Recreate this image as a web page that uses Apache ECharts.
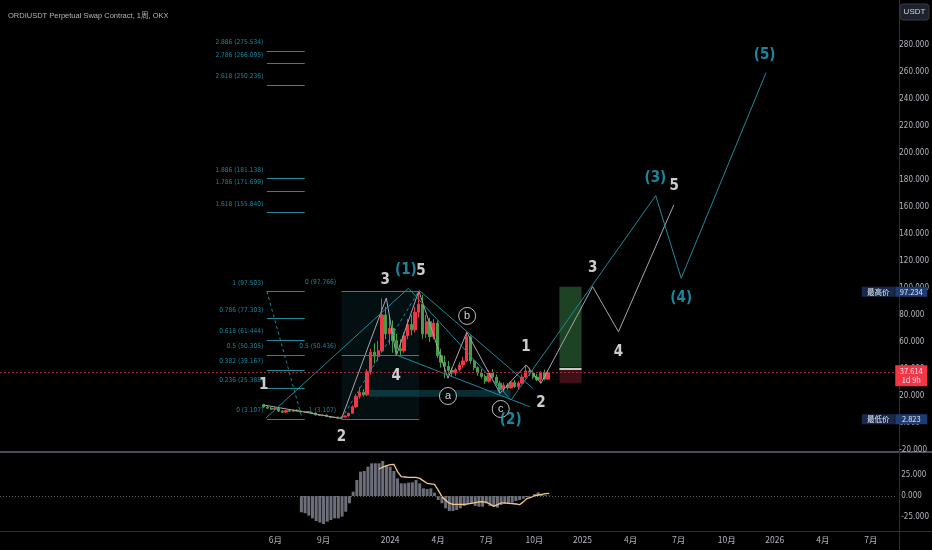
<!DOCTYPE html>
<html><head><meta charset="utf-8">
<script src="https://cdn.jsdelivr.net/npm/echarts@6/dist/echarts.min.js"></script>
<style>html,body{margin:0;padding:0;background:#000;}#c{width:932px;height:550px;}</style>
</head><body><div id="c"></div>
<script>
// x unit = weekly bar index, bar 0 = week of 2023-05-08
const opens = [13.5,11.8,11.0,10.2,10.9,8.8,8.0,9.2,8.7,9.5,
 8.9,8.2,8.5,7.8,7.4,6.0,5.5,5.9,4.9,4.1,
 4.3,3.7,4.4,5.2,7.2,12.0,19.8,22.8,20.9,38.0,
 52.5,49.5,53.5,80.0,66.0,70.0,61.0,55.0,53.5,64.5,
 73.0,69.0,82.0,88.0,66.0,75.0,64.0,74.0,50.0,45.0,
 42.0,39.0,37.0,39.5,43.0,46.0,63.9,46.0,41.0,37.0,
 34.5,31.0,37.0,34.0,29.5,25.0,28.0,26.0,30.0,27.0,
 29.5,34.0,38.5,37.0,34.0,32.0,37.5,32.5];
const closes = [11.8,11.0,10.2,10.9,8.8,8.0,9.2,8.7,9.5,8.9,
 8.2,8.5,7.8,7.4,6.0,5.5,5.9,4.9,4.1,4.3,
 3.7,4.4,5.2,7.2,12.0,19.8,22.8,20.9,38.0,52.5,
 49.5,53.5,80.0,66.0,70.0,61.0,55.0,53.5,64.5,73.0,
 69.0,82.0,88.0,66.0,75.0,64.0,74.0,50.0,45.0,42.0,
 39.0,37.0,39.5,43.0,46.0,63.9,46.0,41.0,37.0,34.5,
 31.0,37.0,34.0,29.5,25.0,28.0,26.0,30.0,27.0,29.5,
 34.0,38.5,37.0,34.0,32.0,37.5,32.5,37.614];
const highs = [14.2,12.6,11.9,11.5,11.2,9.4,9.6,9.8,9.9,10.1,
 9.2,8.8,8.9,8.2,7.6,6.4,6.2,6.1,5.0,4.5,
 4.6,4.8,5.6,7.5,13.0,21.5,26.5,25.0,40.0,55.0,
 59.0,61.0,92.3,86.0,79.0,76.0,66.0,62.0,67.0,77.0,
 80.0,86.0,97.77,95.0,80.0,78.0,77.0,76.0,55.0,50.0,
 46.0,41.0,41.0,45.0,49.0,67.2,65.0,47.0,42.0,40.0,
 36.0,39.0,40.0,36.0,31.0,30.0,29.5,31.0,32.0,31.0,
 36.0,43.0,41.0,39.0,36.5,38.5,39.5,39.0];
const lows = [11.0,10.5,9.8,9.9,8.2,7.6,7.8,8.4,8.5,8.6,
 7.9,7.6,7.5,7.1,5.6,5.2,5.1,4.6,3.6,3.7,
 3.2,3.107,4.1,5.0,6.9,11.2,18.0,19.5,20.0,36.0,
 44.0,46.0,52.0,62.0,58.0,52.0,50.0,50.0,52.0,62.0,
 65.0,67.0,78.0,62.0,63.0,60.0,62.0,48.0,41.0,33.1,
 36.0,34.0,35.0,38.0,41.0,45.0,44.0,39.0,35.0,33.0,
 29.0,30.0,33.0,28.0,22.0,23.0,24.5,25.5,26.0,25.0,
 29.0,33.0,35.0,32.5,31.0,29.4,31.5,31.8];

// lower pane indicator
const histStart = 10;
const histValues = [-19.4,-20.6,-23.4,-26.6,-29.8,-31.7,-33.3,-30.6,-28.6,-26.6,
 -26.6,-24.6,-18.7,-8.7,5.2,19.0,29.0,29.8,34.9,38.9,
 38.9,38.9,41.7,36.9,34.9,29.8,21.0,15.1,15.1,15.9,
 16.3,19.0,15.1,9.1,8.3,9.1,4.0,
 -4.8,-8.7,-14.7,-17.9,-17.9,-16.7,-14.7,-11.9,-9.5,-8.7,
 -11.9,-12.7,-12.7,-8.7,-11.9,-11.9,-13.9,-10.7,-9.5,-9.5,
 -7.9,-6.0,-4.8,-3.2,-1.6,-0.8,
 2.4,4.4,1.5,0.8,0.4];
const lineStart = 31;
const lineValues = [32.1,34.5,36,37.3,37.7,29,23,22.6,22.2,22.2,
 22.2,21,18,15.1,14.5,13.9,7,-0.8,-5,-8.5,
 -9.9,-9.9,-9.9,-9.9,-9.5,-8.7,-7.9,-7.1,-6.7,-7.5,
 -9.5,-12.3,-10.3,-8.3,-8.3,-8.7,-9.1,-9.5,-10.3,-7,
 -3,-1.6,0,1.2,2,2.8,3.2];

// axes
const tickWeeks = [3,16,34,47,60,73,86,99,112,125,138,151,164];
const tickLabels = ['6月','9月','2024','4月','7月','10月','2025','4月','7月','10月','2026','4月','7月'];
const priceTicks = [-20,0,20,40,60,80,100,120,140,160,180,200,220,240,260,280];
const oscTicks = [-25,0,25];

// fib levels
const fib1Levels = [0,0.236,0.382,0.5,0.618,0.786,1,1.618,1.786,1.886,2.618,2.786,2.886];
const fib1Prices = [3.107,25.385,39.167,50.305,61.444,77.303,97.503,155.840,171.699,181.138,250.236,266.095,275.534];
const fib1Span = [0.84, 11.1];
const fib2Levels = [1,0.5,0];
const fib2Prices = [3.107,50.436,97.766];
const fib2Span = [21.07, 42.1];

// wave points [week, price]
const grayWave = [[0,13.3],[21.07,3.3],[33.2,92.6],[35.9,49.9],[42.0,97.77],[49.9,33.1],[55.0,67.2],[64.0,22.0],[71.1,43.0],[75.1,29.4],[89.1,101.0],[96.1,67.6],[111.1,161.5]];
const tealWave = [[0.5,3.5],[39.2,99.8],[67.0,17.0],[106.2,168.4],[113.1,107.2],[136.1,259.5]];
const channelUpper = [[42.0,98.5],[72.9,25.7]];
const channelLower = [[35.9,50.4],[72.1,12.0]];
const whiteLabels = [['1',0,28.1],['2',21.07,-10.4],['3',32.9,105.9],['4',35.9,34.8],['5',42.6,112.6],['1',71.0,56.3],['2',75.1,14.8],['3',89.1,114.8],['4',96.1,52.6],['5',111.2,175.6]];
const tealLabels = [['(1)',38.5,113.3],['(2)',66.9,2.2],['(3)',106.1,181.5],['(4)',113.1,92.6],['(5)',135.7,272.6]];
const circleLabels = [['a',49.9,20.0],['b',55.1,79.3],['c',64.2,10.4]];

// boxes
const band = [28.4,66.9,19.4,24.4];
const longBox = {x:[80.1,86.1], entry:40.3, target:101.0, stop:29.4};
const lastPrice = 37.614, highPrice = 97.234, lowPrice = 2.823;

const X_MIN = -71.48, X_MAX = 171.1;
const TEAL = '#1d8a9c', TEAL_T = '#22a8c2', GRAY = '#a5a7ae', AX = '#b2b5be';
const NARROW = "'Liberation Sans Narrow','DejaVu Sans Condensed','Liberation Sans',sans-serif";

const candles = opens.map((o,i)=>[i,o,closes[i],lows[i],highs[i]]);
const hist = histValues.map((v,k)=>[histStart+k,v]);
const osc = lineValues.map((v,k)=>[lineStart+k,v]);

const fibLines = [];
const fibTexts = [];
fib1Prices.forEach((p,k)=>{
  fibLines.push([{coord:[fib1Span[0],p]},{coord:[fib1Span[1],p]}]);
  fibTexts.push({value:[fib1Span[0],p], name: fib1Levels[k]+' ('+p.toFixed(3)+')', label:{distance:3}});
});
fib2Prices.forEach((p,k)=>{
  fibLines.push([{coord:[fib2Span[0],p]},{coord:[fib2Span[1],p]}]);
  fibTexts.push({value:[fib2Span[0],p], name: fib2Levels[k]+' ('+p.toFixed(3)+')', label:{distance:5}});
});
fibLines.push([{coord:[fib1Span[0],fib1Prices[6]], lineStyle:{type:[3,3]}},{coord:[10.4,fib1Prices[0]]}]);
fibLines.push([{coord:[fib2Span[0],fib2Prices[0]], lineStyle:{type:[3,3]}},{coord:[42.0,fib2Prices[2]]}]);
fibLines.push([{coord:[longBox.x[0],longBox.entry], lineStyle:{color:'#c9c9c9',width:2}},{coord:[longBox.x[1],longBox.entry]}]);

function tag(y, text, bg, dx, w, h, dy){
  return {coord:[X_MAX,y], symbol:'rect', symbolSize:[w,h], symbolOffset:[dx,dy||0],
    itemStyle:{color:bg}, label:{show:true, position:'inside', formatter:text, color:'#e6e8ee',
    fontSize:7.5, lineHeight:9, fontFamily:"'Noto Sans CJK SC','Liberation Sans',sans-serif"}};
}

const option = {
  backgroundColor:'#000',
  animation:false,
  title:{text:'ORDIUSDT Perpetual Swap Contract, 1周, OKX', left:3, top:7,
    textStyle:{color:AX, fontSize:7.5, fontWeight:'normal', fontFamily:"'Liberation Sans','Noto Sans CJK SC',sans-serif"}},
  grid:[{left:0, top:0, width:899, height:452},{left:0, top:453, width:899, height:78}],
  xAxis:[
    {type:'value', gridIndex:0, min:X_MIN, max:X_MAX, show:false},
    {type:'value', gridIndex:1, min:X_MIN, max:X_MAX, axisLine:{show:false, onZero:false}, axisTick:{show:false}, splitLine:{show:false},
     axisLabel:{customValues:tickWeeks, formatter:v=>{const k=tickWeeks.indexOf(Math.round(v)); return k>=0?tickLabels[k]:'';},
       color:AX, fontSize:8.5, margin:5, fontFamily:"'Noto Sans CJK SC','Liberation Sans',sans-serif"}}
  ],
  yAxis:[
    {type:'value', gridIndex:0, position:'right', min:-21.48, max:313.3, splitLine:{show:false},
     axisLine:{show:false, onZero:false}, axisTick:{show:false},
     axisLabel:{customValues:priceTicks, formatter:v=>v.toFixed(3), color:AX, fontSize:8, margin:4, fontFamily:NARROW}},
    {type:'value', gridIndex:1, position:'right', min:-41.67, max:51.19, splitLine:{show:false},
     axisLine:{show:false, onZero:false}, axisTick:{show:false},
     axisLabel:{customValues:oscTicks, formatter:v=>v.toFixed(3), color:AX, fontSize:8, margin:4, fontFamily:NARROW}}
  ],
  series:[
    {type:'line', name:'drawings', xAxisIndex:0, yAxisIndex:0, z:1, data:[[0,0]], showSymbol:false, symbol:'none',
     lineStyle:{opacity:0}, silent:true,
     markArea:{silent:true, data:[
       [{coord:[fib2Span[0],fib2Prices[0]], itemStyle:{color:'rgba(32,150,170,0.10)'}},{coord:[fib2Span[1],fib2Prices[2]]}],
       [{coord:[band[0],band[2]], itemStyle:{color:'rgba(30,140,160,0.32)'}},{coord:[band[1],band[3]]}],
       [{coord:[longBox.x[0],longBox.entry+0.8], itemStyle:{color:'#1e4224'}},{coord:[longBox.x[1],longBox.target]}],
       [{coord:[longBox.x[0],longBox.stop], itemStyle:{color:'#3d1217'}},{coord:[longBox.x[1],longBox.entry-0.8]}]
     ]},
     markLine:{silent:true, symbol:['none','none'], label:{show:false}, lineStyle:{color:TEAL, width:1, type:'solid'}, data:fibLines}
    },
    {type:'candlestick', name:'ORDI', xAxisIndex:0, yAxisIndex:0, z:2, data:candles, barWidth:2.8,
     itemStyle:{color:'#f23645', color0:'#43a047', borderColor:'#f23645', borderColor0:'#43a047', borderWidth:1},
     markLine:{silent:true, symbol:['none','none'], label:{show:false},
       data:[{yAxis:lastPrice, lineStyle:{color:'#a3283a', width:1, type:[2,2]}}]},
     markPoint:{silent:true, data:[
       tag(highPrice,'最高价','#182a4c',-17,33,10),
       tag(highPrice,highPrice.toFixed(3),'#1f3c72',16,32,10),
       tag(lowPrice,'最低价','#182a4c',-17,33,10),
       tag(lowPrice,lowPrice.toFixed(3),'#1f3c72',16,32,10),
       tag(lastPrice,lastPrice.toFixed(3)+'\n1d 9h','#f23645',16,32,21,3.5)
     ]}
    },
    {type:'line', name:'gray wave', xAxisIndex:0, yAxisIndex:0, z:3, data:grayWave, symbol:'none', lineStyle:{color:GRAY, width:1}, silent:true},
    {type:'line', name:'teal wave', xAxisIndex:0, yAxisIndex:0, z:3, data:tealWave, symbol:'none', lineStyle:{color:TEAL, width:1}, silent:true},
    {type:'line', name:'channel up', xAxisIndex:0, yAxisIndex:0, z:3, data:channelUpper, symbol:'none', lineStyle:{color:TEAL, width:1}, silent:true},
    {type:'line', name:'channel low', xAxisIndex:0, yAxisIndex:0, z:3, data:channelLower, symbol:'none', lineStyle:{color:TEAL, width:1}, silent:true},
    {type:'scatter', name:'fib text', xAxisIndex:0, yAxisIndex:0, z:4, symbolSize:1, itemStyle:{color:'rgba(0,0,0,0)'}, silent:true,
     data:fibTexts, label:{show:true, position:'left', offset:[0,-8.5], formatter:'{b}', color:TEAL_T, fontSize:6.6, fontFamily:NARROW}},
    {type:'scatter', name:'white labels', xAxisIndex:0, yAxisIndex:0, z:5, symbolSize:1, itemStyle:{color:'rgba(0,0,0,0)'}, silent:true,
     data:whiteLabels.map(d=>({name:d[0], value:[d[1],d[2]]})),
     label:{show:true, position:'inside', formatter:'{b}', color:'#ffffff', fontSize:15, fontWeight:'bold', fontFamily:NARROW}},
    {type:'scatter', name:'teal labels', xAxisIndex:0, yAxisIndex:0, z:5, symbolSize:1, itemStyle:{color:'rgba(0,0,0,0)'}, silent:true,
     data:tealLabels.map(d=>({name:d[0], value:[d[1],d[2]]})),
     label:{show:true, position:'inside', formatter:'{b}', color:TEAL_T, fontSize:15, fontWeight:'bold', fontFamily:NARROW}},
    {type:'scatter', name:'circle labels', xAxisIndex:0, yAxisIndex:0, z:5, symbol:'circle', symbolSize:17, silent:true,
     itemStyle:{color:'#000', borderColor:'#e8e8e8', borderWidth:1},
     data:circleLabels.map(d=>({name:d[0], value:[d[1],d[2]]})),
     label:{show:true, position:'inside', formatter:'{b}', color:'#ffffff', fontSize:11, fontFamily:"'Liberation Sans',sans-serif"}},
    {type:'bar', name:'hist', xAxisIndex:1, yAxisIndex:1, data:hist, barWidth:3, silent:true,
     itemStyle:{color:'#6c6f79'},
     markLine:{silent:true, symbol:['none','none'], label:{show:false},
       data:[{yAxis:0, lineStyle:{color:'#5d606b', width:1, type:[1,2]}}]}},
    {type:'line', name:'signal', xAxisIndex:1, yAxisIndex:1, data:osc, symbol:'none', silent:true,
     lineStyle:{color:'#f2c78a', width:1.3}}
  ],
  graphic:[
    {type:'rect', shape:{x:0,y:451,width:932,height:2}, style:{fill:'#4a4d57'}, silent:true},
    {type:'rect', shape:{x:0,y:531,width:932,height:1}, style:{fill:'#2a2e39'}, silent:true},
    {type:'rect', shape:{x:899,y:0,width:1,height:550}, style:{fill:'#2a2e39'}, silent:true},
    {type:'rect', shape:{x:900,y:4,width:29,height:16,r:3}, style:{fill:'#1e222d', stroke:'#363a45', lineWidth:1}, silent:true},
    {type:'text', x:914.5, y:12, style:{text:'USDT', fill:'#d1d4dc', fontSize:8, align:'center', verticalAlign:'middle', fontFamily:"'Liberation Sans',sans-serif"}, silent:true}
  ]
};
echarts.init(document.getElementById('c')).setOption(option);
</script></body></html>
